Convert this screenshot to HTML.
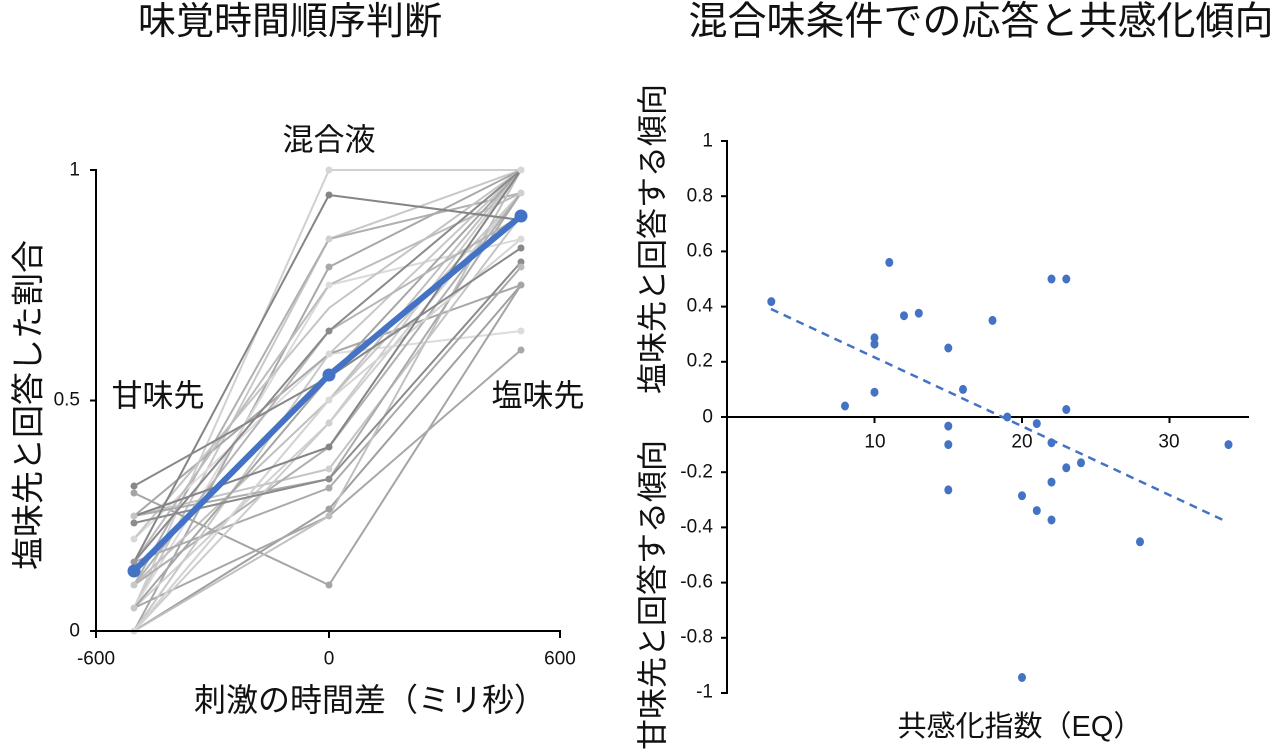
<!DOCTYPE html>
<html>
<head>
<meta charset="utf-8">
<style>
  html, body { margin: 0; padding: 0; background: #ffffff; }
  body { width: 1280px; height: 752px; overflow: hidden; }
  svg { display: block; }
  .jp { font-family: "Liberation Sans", "Noto Sans CJK JP", sans-serif; fill: #111; }
  .num { font-family: "Liberation Sans", sans-serif; fill: #111; font-size: 19px; }
</style>
</head>
<body>
<svg width="1280" height="752" viewBox="0 0 1280 752" xmlns="http://www.w3.org/2000/svg">
  <rect width="1280" height="752" fill="#fff"/>

  <!-- ============ TITLES ============ -->
  <text class="jp" x="290" y="22" font-size="38" text-anchor="middle" dominant-baseline="central">味覚時間順序判断</text>
  <text class="jp" x="981" y="22" font-size="39" text-anchor="middle" dominant-baseline="central">混合味条件での応答と共感化傾向</text>

  <!-- ============ LEFT CHART ============ -->
  <g id="gray-lines" fill="none" stroke-width="2" stroke-linejoin="round">
    <polyline stroke="#d0d0d0" points="134,608 329,170 521,170"/>
    <polyline stroke="#c8c8c8" points="134,608 329,239 521,170"/>
    <polyline stroke="#b0b0b0" points="134,585 329,239 521,193"/>
    <polyline stroke="#a8a8a8" points="134,631 329,267 521,170"/>
    <polyline stroke="#dadada" points="134,608 329,285 521,239"/>
    <polyline stroke="#dcdcdc" points="134,539 329,354 521,331"/>
    <polyline stroke="#a8a8a8" points="134,516 329,354 521,285"/>
    <polyline stroke="#c8c8c8" points="134,631 329,400 521,193"/>
    <polyline stroke="#c0c0c0" points="134,585 329,400 521,170"/>
    <polyline stroke="#d0d0d0" points="134,608 329,423 521,193"/>
    <polyline stroke="#a5a5a5" points="134,493 329,585 521,285"/>
    <polyline stroke="#c5c5c5" points="134,516 329,469 521,216"/>
    <polyline stroke="#aaaaaa" points="134,562 329,488 521,267"/>
    <polyline stroke="#a0a0a0" points="134,631 329,509 521,285"/>
    <polyline stroke="#a8a8a8" points="134,608 329,516 521,350"/>
    <polyline stroke="#c0c0c0" points="134,631 329,516 521,170"/>
    <polyline stroke="#b0b0b0" points="134,585 329,447 521,193"/>
    <polyline stroke="#c8c8c8" points="134,631 329,354 521,170"/>
    <polyline stroke="#c4c4c4" points="134,539 329,308 521,170"/>
    <polyline stroke="#bdbdbd" points="134,562 329,285 521,193"/>
    <polyline stroke="#a6a6a6" points="134,608 329,377 521,170"/>
    <polyline stroke="#ababab" points="134,516 329,479 521,193"/>
    <polyline stroke="#cccccc" points="134,631 329,423 521,170"/>
    <polyline stroke="#b5b5b5" points="134,585 329,331 521,216"/>
    <polyline stroke="#d4d4d4" points="134,631 329,400 521,239"/>
    <polyline stroke="#858585" points="134,562 329,195 521,220"/>
    <polyline stroke="#8a8a8a" points="134,562 329,331 521,170"/>
    <polyline stroke="#858585" points="134,516 329,447 521,170"/>
    <polyline stroke="#888888" points="134,486 329,377 521,248"/>
    <polyline stroke="#8c8c8c" points="134,523 329,479 521,262"/>
  </g>
  <g id="gray-dots">
    <circle cx="134" cy="486" r="3.5" fill="#888"/>
    <circle cx="134" cy="493" r="3.5" fill="#a5a5a5"/>
    <circle cx="134" cy="516" r="3.5" fill="#c5c5c5"/>
    <circle cx="134" cy="523" r="3.5" fill="#8c8c8c"/>
    <circle cx="134" cy="539" r="3.5" fill="#d8d8d8"/>
    <circle cx="134" cy="562" r="3.5" fill="#999"/>
    <circle cx="134" cy="585" r="3.5" fill="#c8c8c8"/>
    <circle cx="134" cy="608" r="3.5" fill="#c8c8c8"/>
    <circle cx="134" cy="631" r="3.5" fill="#d8d8d8"/>
    <circle cx="329" cy="170" r="3.5" fill="#d6d6d6"/>
    <circle cx="329" cy="195" r="3.5" fill="#858585"/>
    <circle cx="329" cy="239" r="3.5" fill="#d0d0d0"/>
    <circle cx="329" cy="267" r="3.5" fill="#a8a8a8"/>
    <circle cx="329" cy="285" r="3.5" fill="#dcdcdc"/>
    <circle cx="329" cy="331" r="3.5" fill="#8a8a8a"/>
    <circle cx="329" cy="354" r="3.5" fill="#d8d8d8"/>
    <circle cx="329" cy="400" r="3.5" fill="#d8d8d8"/>
    <circle cx="329" cy="423" r="3.5" fill="#d0d0d0"/>
    <circle cx="329" cy="447" r="3.5" fill="#858585"/>
    <circle cx="329" cy="469" r="3.5" fill="#cfcfcf"/>
    <circle cx="329" cy="479" r="3.5" fill="#8c8c8c"/>
    <circle cx="329" cy="488" r="3.5" fill="#aaaaaa"/>
    <circle cx="329" cy="509" r="3.5" fill="#a0a0a0"/>
    <circle cx="329" cy="516" r="3.5" fill="#bdbdbd"/>
    <circle cx="329" cy="585" r="3.5" fill="#a5a5a5"/>
    <circle cx="521" cy="170" r="3.5" fill="#d6d6d6"/>
    <circle cx="521" cy="193" r="3.5" fill="#d0d0d0"/>
    <circle cx="521" cy="239" r="3.5" fill="#dadada"/>
    <circle cx="521" cy="248" r="3.5" fill="#888"/>
    <circle cx="521" cy="262" r="3.5" fill="#8c8c8c"/>
    <circle cx="521" cy="267" r="3.5" fill="#bbbbbb"/>
    <circle cx="521" cy="285" r="3.5" fill="#a5a5a5"/>
    <circle cx="521" cy="331" r="3.5" fill="#dcdcdc"/>
    <circle cx="521" cy="350" r="3.5" fill="#a8a8a8"/>
  </g>

  <!-- mean (blue) -->
  <polyline fill="none" stroke="#4472C4" stroke-width="6" stroke-linejoin="round" points="134,571 329,375 521,216"/>
  <circle cx="134" cy="571" r="6.5" fill="#4472C4"/>
  <circle cx="329" cy="375" r="6.5" fill="#4472C4"/>
  <circle cx="521" cy="216" r="6.5" fill="#4472C4"/>

  <!-- left axes -->
  <g stroke="#000" stroke-width="2" fill="none">
    <line x1="96" y1="169" x2="96" y2="632"/>
    <line x1="90" y1="170" x2="96" y2="170"/>
    <line x1="90" y1="400.5" x2="96" y2="400.5"/>
    <line x1="90" y1="631" x2="96" y2="631"/>
    <line x1="95" y1="631" x2="561" y2="631"/>
    <line x1="96" y1="631" x2="96" y2="638"/>
    <line x1="329" y1="631" x2="329" y2="638"/>
    <line x1="560" y1="631" x2="560" y2="638"/>
  </g>
  <text class="num" x="80" y="170" text-anchor="end" dominant-baseline="central">1</text>
  <text class="num" x="80" y="400" text-anchor="end" dominant-baseline="central">0.5</text>
  <text class="num" x="80" y="631" text-anchor="end" dominant-baseline="central">0</text>
  <text class="num" x="96" y="659" text-anchor="middle" dominant-baseline="central">-600</text>
  <text class="num" x="329" y="659" text-anchor="middle" dominant-baseline="central">0</text>
  <text class="num" x="560" y="659" text-anchor="middle" dominant-baseline="central">600</text>

  <text class="jp" x="329" y="140" font-size="31" text-anchor="middle" dominant-baseline="central">混合液</text>
  <text class="jp" x="158" y="396" font-size="31" text-anchor="middle" dominant-baseline="central">甘味先</text>
  <text class="jp" x="538" y="396" font-size="31" text-anchor="middle" dominant-baseline="central">塩味先</text>

  <text class="jp" x="370" y="700" font-size="32" text-anchor="middle" dominant-baseline="central">刺激の時間差（ミリ秒）</text>
  <text class="jp" font-size="33" text-anchor="middle" dominant-baseline="central" transform="translate(28,405) rotate(-90)">塩味先と回答した割合</text>

  <!-- ============ RIGHT CHART ============ -->
  <g stroke="#000" stroke-width="2" fill="none">
    <line x1="727" y1="140" x2="727" y2="694"/>
    <line x1="721" y1="141" x2="727" y2="141"/>
    <line x1="721" y1="196.2" x2="727" y2="196.2"/>
    <line x1="721" y1="251.4" x2="727" y2="251.4"/>
    <line x1="721" y1="306.6" x2="727" y2="306.6"/>
    <line x1="721" y1="361.8" x2="727" y2="361.8"/>
    <line x1="721" y1="417" x2="727" y2="417"/>
    <line x1="721" y1="472.2" x2="727" y2="472.2"/>
    <line x1="721" y1="527.4" x2="727" y2="527.4"/>
    <line x1="721" y1="582.6" x2="727" y2="582.6"/>
    <line x1="721" y1="637.8" x2="727" y2="637.8"/>
    <line x1="721" y1="693" x2="727" y2="693"/>
    <line x1="726" y1="417" x2="1249" y2="417"/>
    <line x1="874.5" y1="417" x2="874.5" y2="423"/>
    <line x1="1022" y1="417" x2="1022" y2="423"/>
    <line x1="1169.5" y1="417" x2="1169.5" y2="423"/>
  </g>
  <g class="num" text-anchor="end" dominant-baseline="central">
    <text x="713" y="141">1</text>
    <text x="713" y="196">0.8</text>
    <text x="713" y="251">0.6</text>
    <text x="713" y="306">0.4</text>
    <text x="713" y="361">0.2</text>
    <text x="713" y="417">0</text>
    <text x="713" y="472">-0.2</text>
    <text x="713" y="527">-0.4</text>
    <text x="713" y="582">-0.6</text>
    <text x="713" y="637">-0.8</text>
    <text x="713" y="692">-1</text>
  </g>
  <g class="num" text-anchor="middle" dominant-baseline="central">
    <text x="875" y="442">10</text>
    <text x="1022" y="442">20</text>
    <text x="1169" y="442">30</text>
  </g>

  <!-- trend line -->
  <line x1="771" y1="309" x2="1223" y2="520" stroke="#4472C4" stroke-width="2.5" stroke-dasharray="8,6"/>

  <!-- scatter -->
  <g fill="#4472C4">
    <ellipse cx="771.3" cy="301.6" rx="4" ry="4.5"/>
    <ellipse cx="889.3" cy="262.4" rx="4" ry="4.5"/>
    <ellipse cx="904" cy="315.7" rx="4" ry="4.5"/>
    <ellipse cx="918.8" cy="313.2" rx="4" ry="4.5"/>
    <ellipse cx="874.5" cy="337.8" rx="4" ry="4.5"/>
    <ellipse cx="874.5" cy="344.1" rx="4" ry="4.5"/>
    <ellipse cx="948.3" cy="348" rx="4" ry="4.5"/>
    <ellipse cx="992.5" cy="320.4" rx="4" ry="4.5"/>
    <ellipse cx="1051.5" cy="279" rx="4" ry="4.5"/>
    <ellipse cx="1066.3" cy="279" rx="4" ry="4.5"/>
    <ellipse cx="845" cy="406" rx="4" ry="4.5"/>
    <ellipse cx="874.5" cy="392.2" rx="4" ry="4.5"/>
    <ellipse cx="963" cy="389.4" rx="4" ry="4.5"/>
    <ellipse cx="1007.3" cy="417" rx="4" ry="4.5"/>
    <ellipse cx="1066.3" cy="409.5" rx="4" ry="4.5"/>
    <ellipse cx="1036.8" cy="423.6" rx="4" ry="4.5"/>
    <ellipse cx="948.3" cy="426.1" rx="4" ry="4.5"/>
    <ellipse cx="948.3" cy="444.6" rx="4" ry="4.5"/>
    <ellipse cx="1051.5" cy="442.7" rx="4" ry="4.5"/>
    <ellipse cx="1228.5" cy="444.6" rx="4" ry="4.5"/>
    <ellipse cx="1066.3" cy="467.8" rx="4" ry="4.5"/>
    <ellipse cx="1081" cy="462.8" rx="4" ry="4.5"/>
    <ellipse cx="1051.5" cy="482.1" rx="4" ry="4.5"/>
    <ellipse cx="948.3" cy="489.9" rx="4" ry="4.5"/>
    <ellipse cx="1022" cy="495.7" rx="4" ry="4.5"/>
    <ellipse cx="1036.8" cy="510.6" rx="4" ry="4.5"/>
    <ellipse cx="1051.5" cy="520" rx="4" ry="4.5"/>
    <ellipse cx="1140" cy="541.8" rx="4" ry="4.5"/>
    <ellipse cx="1022" cy="677.5" rx="4" ry="4.5"/>
  </g>

  <!-- right labels -->
  <text class="jp" font-size="31" text-anchor="middle" dominant-baseline="central" transform="translate(653,239) rotate(-90)">塩味先と回答する傾向</text>
  <text class="jp" font-size="31" text-anchor="middle" dominant-baseline="central" transform="translate(653,595) rotate(-90)">甘味先と回答する傾向</text>
  <text class="jp" x="1020" y="727" font-size="29" text-anchor="middle" dominant-baseline="central">共感化指数（EQ）</text>
</svg>
</body>
</html>
